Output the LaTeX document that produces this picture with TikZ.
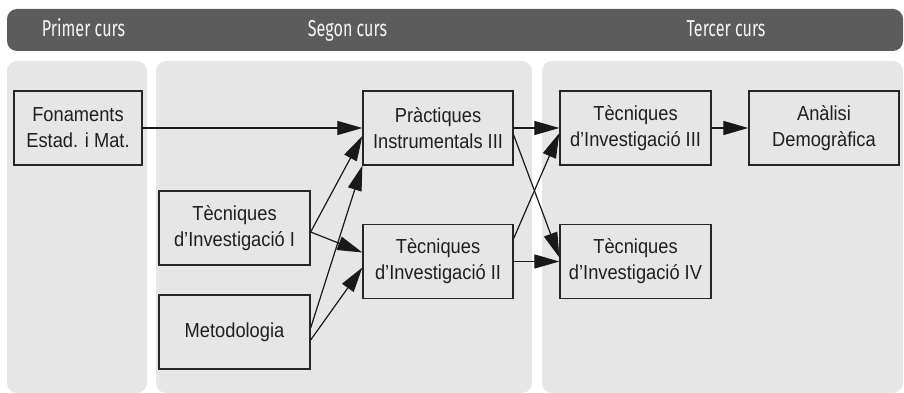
\documentclass[tikz,border=0pt]{standalone}
\usepackage{fontspec}
\setmainfont{Liberation Sans}[FakeStretch=0.9]
\newfontfamily\headfont[FakeStretch=0.7]{Fira Sans}
\usetikzlibrary{arrows.meta}
\definecolor{barcol}{HTML}{5C5C5C}
\definecolor{panelcol}{HTML}{E6E6E6}
\definecolor{linecol}{HTML}{262626}

\begin{document}
\begin{tikzpicture}[x=1pt,y=-1pt,
course/.style={draw=linecol,line width=1.3pt,minimum width=151pt,minimum height=74pt,
	align=center,inner sep=0pt,font=\fontsize{20.3}{26}\selectfont,text=black!88},
panel/.style={fill=panelcol,rounded corners=10pt},
headtext/.style={text=white!96!black,font=\headfont\fontsize{23}{23}\selectfont,anchor=base},
link/.style={-{Triangle[length=25pt,width=14pt]},line width=1.2pt,draw=black!90}]
\useasboundingbox (0,0) rectangle (904,393);

%header bar and the three columns
\fill[barcol,rounded corners=10pt] (7,9) rectangle (903,51);
\fill[panel] (7,61) rectangle (147,393);
\fill[panel] (156,61) rectangle (532,393);
\fill[panel] (542,61) rectangle (903,393);
\node[headtext] (h1) at (83.5,37) {Primer curs};
\node[headtext] (h2) at (347.5,37) {Segon curs};
\node[headtext] (h3) at (726,37) {Tercer curs};

%subjects
\node[course,minimum width=128pt] (fon) at (78,128) {Fonaments\\Estad. i Mat.};
\node[course] (tec1) at (234.5,228) {Tècniques\\d’Investigació I};
\node[course] (met) at (234.5,332) {Metodologia};
\node[course,minimum width=150pt] (pra) at (438,128) {Pràctiques\\Instrumentals III};
\node[course,minimum width=150pt] (tec2) at (438,261.5) {Tècniques\\d’Investigació II};
\node[course] (tec3) at (635.5,128) {Tècniques\\d’Investigació III};
\node[course] (tec4) at (635.5,261.5) {Tècniques\\d’Investigació IV};
\node[course,minimum width=150pt] (ana) at (824,128) {Anàlisi\\Demogràfica};

%prerequisites
\draw[link] (fon.east) -- (pra.west);
\draw[link] ([yshift=-4pt]tec1.east) -- ([yshift=-8pt]pra.west);
\draw[link] ([yshift=-4pt]tec1.east) -- ([yshift=9pt]tec2.west);
\draw[link] ([yshift=4pt]met.east) -- (pra.south west);
\draw[link] ([yshift=-8pt]met.east) -- ([yshift=-6pt]tec2.west);
\draw[link] (pra.east) -- (tec3.west);
\draw[link] ([yshift=-7pt]pra.east) -- ([yshift=4pt]tec4.west);
\draw[link] ([yshift=23pt]tec2.east) -- ([yshift=-5pt]tec3.west);
\draw[link] (tec2.east) -- (tec4.west);
\draw[link] (tec3.east) -- (ana.west);
\end{tikzpicture}
\end{document}
